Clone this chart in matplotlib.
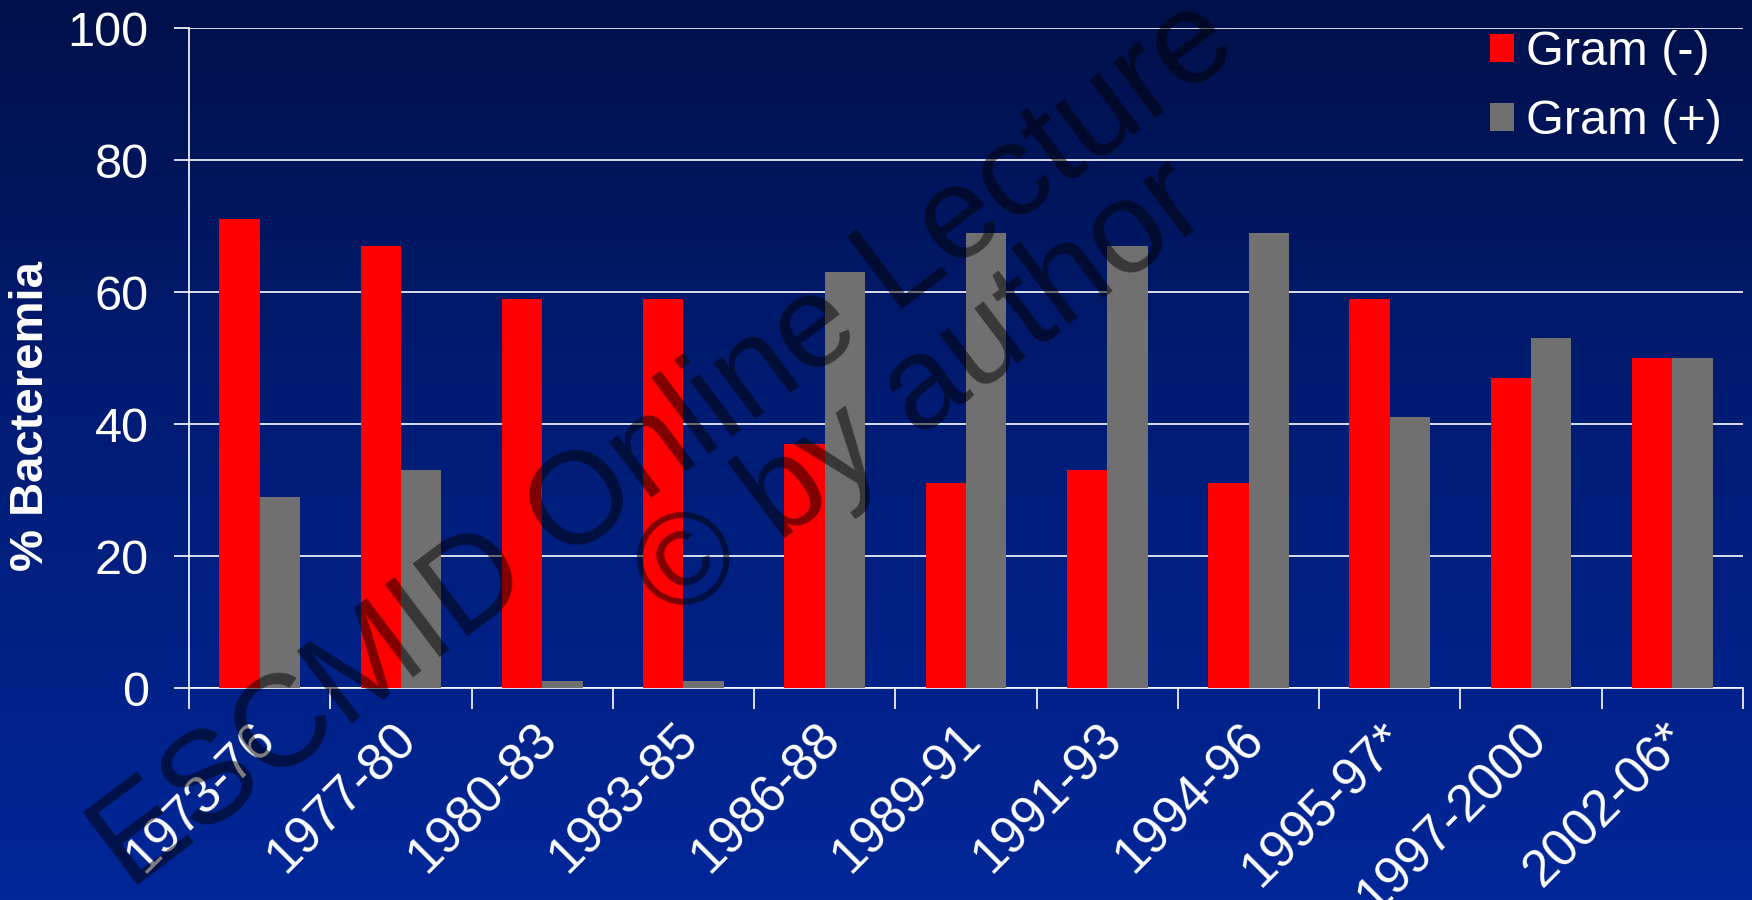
import numpy as np
import matplotlib
matplotlib.use("Agg")
import matplotlib.pyplot as plt
from matplotlib.colors import LinearSegmentedColormap
from matplotlib.transforms import ScaledTranslation

periods = ["1973-76", "1977-80", "1980-83", "1983-85", "1986-88", "1989-91",
           "1991-93", "1994-96", "1995-97*", "1997-2000", "2002-06*"]
gram_neg = [71, 67, 59, 59, 37, 31, 33, 31, 59, 47, 50]
gram_pos = [29, 33, 1, 1, 63, 69, 67, 69, 41, 53, 50]
y_ticks = [0, 20, 40, 60, 80, 100]

plt.rcParams["font.family"] = ["Liberation Sans", "DejaVu Sans"]

W, H = 1752, 900
fig = plt.figure(figsize=(W / 100, H / 100), dpi=100)

# background gradient, dark navy at the top to brighter blue at the bottom
bg = fig.add_axes([0, 0, 1, 1], zorder=-10)
cmap = LinearSegmentedColormap.from_list("bg", ["#00104a", "#001d78", "#002698"])
bg.imshow(np.linspace(0, 1, 256).reshape(-1, 1), aspect="auto", cmap=cmap,
          extent=[0, 1, 0, 1], origin="upper")
bg.axis("off")

ax = fig.add_axes([189 / W, 1 - 688 / H, (1743 - 189) / W, 660 / H])
ax.patch.set_visible(False)

x = np.arange(len(periods))
bw = 0.286
ax.bar(x - bw / 2, gram_neg, bw, color="#ff0000", label="Gram (-)", zorder=3)
ax.bar(x + bw / 2, gram_pos, bw, color="#707070", label="Gram (+)", zorder=3)

ax.set_xlim(-0.5, len(periods) - 0.5)
ax.set_ylim(0, 100)
ax.set_yticks(y_ticks)
ax.yaxis.grid(True, color="white", linewidth=1.2)
ax.set_axisbelow(True)

ax.set_xticks(np.arange(len(periods) + 1) - 0.5)
ax.set_xticklabels([])
ax.set_xticks(x, minor=True)
ax.set_xticklabels(periods, minor=True, rotation=45, ha="right",
                   rotation_mode="anchor", fontsize=37, color="white")
ax.tick_params(axis="x", which="minor", length=0, pad=19)
ax.tick_params(axis="x", which="major", length=15, width=1.2, color="white")
ax.tick_params(axis="y", length=11, width=1.2, color="white",
               labelsize=35, labelcolor="white", pad=18)
shift = ScaledTranslation(-0.1, 0, fig.dpi_scale_trans)
for lbl in ax.get_xticklabels(minor=True):
    lbl.set_transform(lbl.get_transform() + shift)

for side in ["top", "right"]:
    ax.spines[side].set_visible(False)
for side in ["left", "bottom"]:
    ax.spines[side].set_color("white")
    ax.spines[side].set_linewidth(1.2)

ax.set_ylabel("% Bacteremia", fontsize=34, fontweight="bold", color="white")
ax.yaxis.set_label_coords((31 - 189) / 1554, (688 - 416) / 660)
ax.yaxis.label.set_va("center")

leg = ax.legend(loc="upper left", bbox_to_anchor=(1490 / W, 1 - 30 / H),
                bbox_transform=fig.transFigure, frameon=False, fontsize=35,
                handlelength=0.5, handleheight=0.5, handletextpad=0.25,
                labelspacing=0.5, borderpad=0, borderaxespad=0)
for t in leg.get_texts():
    t.set_color("white")

# watermark
fig.text(665 / W, 1 - 445 / H, "ESCMID Online Lecture", fontsize=94,
         rotation=37, ha="center", va="center", color="black", alpha=0.5,
         rotation_mode="anchor", zorder=20)
fig.text(922 / W, 1 - 392 / H, "© by author", fontsize=94,
         rotation=37, ha="center", va="center", color="black", alpha=0.5,
         rotation_mode="anchor", zorder=20)

fig.savefig("out.png", dpi=100)
